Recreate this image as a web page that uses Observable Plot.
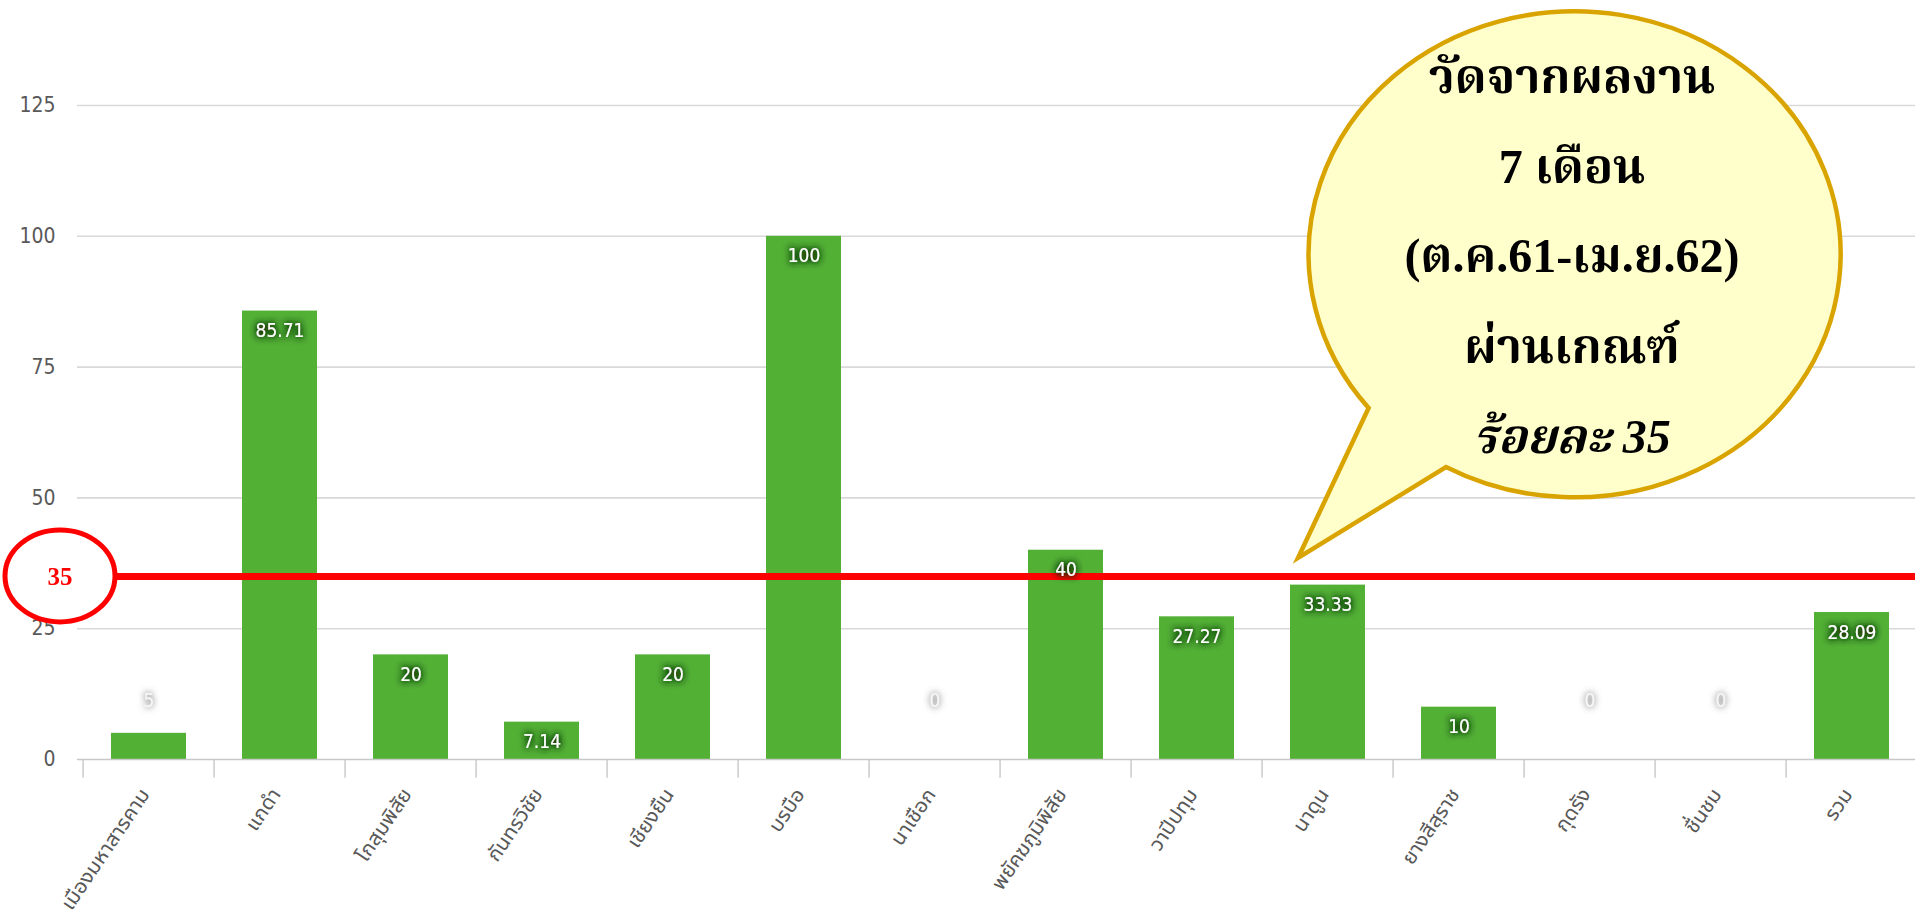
<!DOCTYPE html>
<html><head><meta charset="utf-8">
<script src="https://cdn.jsdelivr.net/npm/d3@7"></script>
<script src="https://cdn.jsdelivr.net/npm/@observablehq/plot@0.6"></script>
<style>
html,body{margin:0;padding:0;background:#fff;overflow:hidden}
.cond{font-stretch:condensed}
</style></head><body><div id="chart"></div>
<script>
const districts = ["เมืองมหาสารคาม","แกดำ","โกสุมพิสัย","กันทรวิชัย","เชียงยืน","บรบือ","นาเชือก","พยัคฆภูมิพิสัย","วาปีปทุม","นาดูน","ยางสีสุราช","กุดรัง","ชื่นชม","รวม"];
const percents = [5, 85.71, 20, 7.14, 20, 100, 0, 40, 27.27, 33.33, 10, 0, 0, 28.09];
const yTicks = [0, 25, 50, 75, 100, 125];
const target = 35;
const bubbleLines = ["วัดจากผลงาน", "7 เดือน", "(ต.ค.61-เม.ย.62)", "ผ่านเกณฑ์", "ร้อยละ 35"];

const data = districts.map((d, i) => ({district: d, value: percents[i]}));
const W = 1915, H = 913;
const x0 = 77, x1 = 1923;
const step = (x1 - x0) / districts.length;
const thaiSans = "'Noto Sans Thai UI','Noto Sans Thai','Leelawadee UI','Tahoma',sans-serif";
const thaiSerif = "'Liberation Serif','Noto Serif Thai','Noto Sans Thai','Times New Roman',serif";
const numFont = "'DejaVu Sans Condensed','DejaVu Sans','Liberation Sans Narrow',sans-serif";

const plot = Plot.plot({
  width: W, height: H,
  marginLeft: x0, marginRight: 0, marginTop: 105, marginBottom: 154,
  style: {background: "#fff", overflow: "visible"},
  x: {domain: districts, range: [x0, x1], paddingInner: 0.425, paddingOuter: 0.2125, axis: null},
  y: {domain: [0, 125], range: [759, 105], axis: null},
  marks: [
    Plot.gridY(yTicks.filter(t => t > 0), {stroke: "#d9d9d9", strokeOpacity: 1, strokeWidth: 1.6}),
    Plot.axisY(yTicks, {tickSize: 0, tickPadding: 22, fontSize: 21, color: "#595959", fontFamily: numFont, label: null}),
    Plot.barY(data, {x: "district", y: "value", fill: "#52b035"}),
    Plot.ruleY([0], {stroke: "#c8c8c8", strokeWidth: 1.6}),
    Plot.ruleX(districts, {x: d => d, dx: -step / 2, y1: 0, y2: -3.6, stroke: "#c8c8c8", strokeWidth: 1.4}),
    Plot.text(districts, {x: d => d, frameAnchor: "bottom", dy: 31, dx: -4, rotate: -56, textAnchor: "end", lineAnchor: "middle",
      fill: "#595959", fontSize: 21, fontFamily: thaiSans}),
    Plot.ruleY([target], {stroke: "#ff0000", strokeWidth: 7}),
    Plot.text(data.filter(d => d.value >= 6), {x: "district", y: "value", dy: 20, text: d => String(d.value),
      fill: "#ffffff", fontSize: 19, fontFamily: numFont}),
    Plot.text(data.filter(d => d.value < 6), {x: "district", frameAnchor: "bottom", dy: -53, text: d => String(d.value),
      fill: "#f6f6f6", fontSize: 19, fontFamily: numFont})
  ]
});

document.getElementById("chart").appendChild(plot);
const svg = d3.select(plot);
const defs = svg.insert("defs", ":first-child");
defs.append("filter").attr("id", "glowDark").attr("x", "-60%").attr("y", "-60%").attr("width", "220%").attr("height", "220%")
  .html('<feGaussianBlur in="SourceAlpha" stdDeviation="3.5" result="b"/><feFlood flood-color="#143608" flood-opacity="1"/><feComposite in2="b" operator="in" result="s"/><feComponentTransfer in="s" result="s2"><feFuncA type="linear" slope="2.4"/></feComponentTransfer><feMerge><feMergeNode in="s2"/><feMergeNode in="SourceGraphic"/></feMerge>');
defs.append("filter").attr("id", "glowGray").attr("x", "-60%").attr("y", "-60%").attr("width", "220%").attr("height", "220%")
  .html('<feGaussianBlur in="SourceAlpha" stdDeviation="3.5" result="b"/><feFlood flood-color="#808080" flood-opacity="1"/><feComposite in2="b" operator="in" result="s"/><feComponentTransfer in="s" result="s2"><feFuncA type="linear" slope="1.6"/></feComponentTransfer><feMerge><feMergeNode in="s2"/><feMergeNode in="SourceGraphic"/></feMerge>');
const textGroups = svg.selectAll('g[aria-label="text"]').nodes();
// order: x labels, in-bar labels, outside labels
d3.select(textGroups[1]).attr("filter", "url(#glowDark)").attr("class", "cond");
d3.select(textGroups[2]).attr("filter", "url(#glowGray)").attr("class", "cond");
svg.selectAll('g[aria-label="y-axis tick label"]').attr("class", "cond");

// target marker ellipse
const ys = plot.scale("y");
const ty = ys.apply(target);
const ann = svg.append("g");
ann.append("ellipse").attr("cx", 60).attr("cy", ty).attr("rx", 55).attr("ry", 46)
  .attr("fill", "#fff").attr("stroke", "#ff0000").attr("stroke-width", 5);
ann.append("text").attr("x", 60).attr("y", ty).attr("dy", "0.35em").attr("text-anchor", "middle")
  .attr("fill", "#ff0000").attr("font-weight", "bold").attr("font-size", 25).attr("font-family", thaiSerif).text(String(target));

// speech bubble
const cx = 1572, cy = 255, rx = 266, ry = 243;
const A = [1368.6, 408], B = [1446, 467], T = [1298, 558];
ann.append("path")
  .attr("d", `M${A[0]},${A[1]} L${T[0]},${T[1]} L${B[0]},${B[1]} A${rx},${ry} 0 1 0 ${A[0]},${A[1]} Z`)
  .attr("fill", "#ffffcc").attr("stroke", "#d9a400").attr("stroke-width", 4.5).attr("stroke-linejoin", "miter");
const baselines = [93, 183, 272, 363, 453];
bubbleLines.forEach((s, i) => {
  ann.append("text").attr("x", cx).attr("y", baselines[i]).attr("text-anchor", "middle")
    .attr("font-family", thaiSerif).attr("font-weight", "bold").attr("font-size", 48)
    .attr("font-style", i === 4 ? "italic" : "normal").attr("fill", "#000").text(s);
});
</script></body></html>
